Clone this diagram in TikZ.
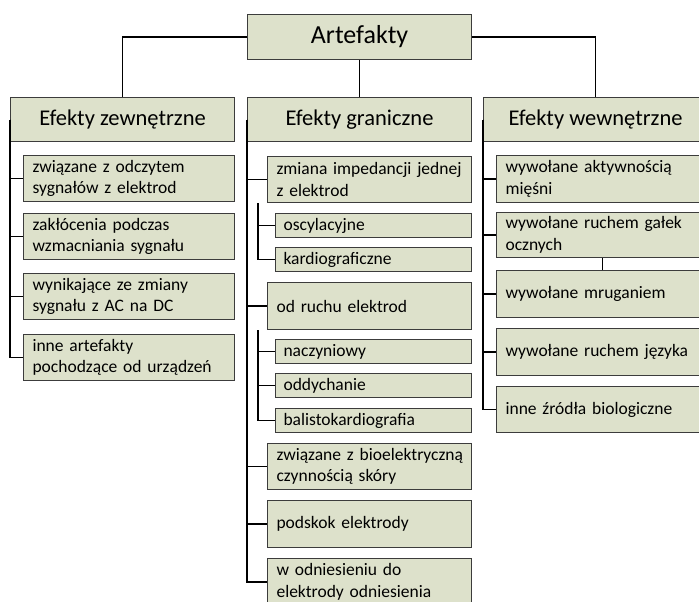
\documentclass[tikz,border=0pt]{standalone}
\usepackage{fontspec}
\setmainfont{Carlito}
\usetikzlibrary{calc}

\definecolor{boxfill}{RGB}{221,225,203}
\definecolor{boxline}{RGB}{60,60,60}

\begin{document}
\begin{tikzpicture}[
    x=1pt, y=-1pt,
    box/.style={draw=boxline, fill=boxfill, line width=1.1pt, anchor=north west, inner sep=0pt},
    topbox/.style={box, minimum width=224, minimum height=45, font=\fontsize{26}{31}\selectfont},
    grpbox/.style={box, minimum width=224, minimum height=44, font=\fontsize{22.5}{27}\selectfont},
    itembox/.style={box, inner xsep=9pt, align=left, font=\fontsize{17.5}{21.5}\selectfont},
    leftitem/.style={itembox, text width=193pt},
    miditem/.style={itembox, text width=186pt},
    subitem/.style={itembox, inner xsep=8pt, text width=180pt, minimum height=24},
    rightitem/.style={itembox, text width=194pt},
    link/.style={line width=1.3pt, black}
]
\useasboundingbox (0,0) rectangle (699,602);
\clip (0,0) rectangle (699,602);

% Top box and groups
\node[topbox] (art) at (247,14) {Artefakty};
\node[grpbox] (zew) at (10,97) {Efekty zewnętrzne};
\node[grpbox] (gra) at (247,97) {Efekty graniczne};
\node[grpbox] (wew) at (483,97) {Efekty wewnętrzne};

% Left column
\node[leftitem, minimum height=46] (z1) at (23,155) {związane z odczytem\\sygnałów z elektrod};
\node[leftitem, minimum height=46] (z2) at (23,213) {zakłócenia podczas\\wzmacniania sygnału};
\node[leftitem, minimum height=46] (z3) at (23,273) {wynikające ze zmiany\\sygnału z AC na DC};
\node[leftitem, minimum height=46] (z4) at (23,334) {inne artefakty\\pochodzące od urządzeń};

% Middle column
\node[miditem, minimum height=46] (imp) at (267,156) {zmiana impedancji jednej\\z elektrod};
\node[subitem] (osc) at (275,213) {oscylacyjne};
\node[subitem] (kar) at (275,247) {kardiograficzne};
\node[miditem, minimum height=47] (ruch) at (267,282) {od ruchu elektrod};
\node[subitem] (nac) at (275,339) {naczyniowy};
\node[subitem] (odd) at (275,373) {oddychanie};
\node[subitem] (bal) at (275,408) {balistokardiografia};
\node[miditem, minimum height=46] (bio) at (267,443) {\mbox{związane z bioelektryczną}\\czynnością skóry};
\node[miditem, minimum height=47] (pod) at (267,500) {podskok elektrody};
\node[miditem, minimum height=47] (odn) at (267,558) {w odniesieniu do\\elektrody odniesienia};

% Right column
\node[rightitem, minimum height=47] (w1) at (496,155) {wywołane aktywnością\\mięśni};
\node[rightitem, minimum height=45] (w2) at (496,212) {wywołane ruchem gałek\\ocznych};
\node[rightitem, minimum height=47] (w3) at (496,270) {wywołane mruganiem};
\node[rightitem, minimum height=47] (w4) at (496,328) {wywołane ruchem języka};
\node[rightitem, minimum height=46] (w5) at (496,386) {inne źródła biologiczne};

% Top connectors
\draw[link] (art.west) -| (zew.north);
\draw[link] (art.east) -| (wew.north);
\draw[link] (art.south) -- (gra.north);

% Trunks
\foreach \c in {z1,z2,z3,z4} \draw[link] (zew.west) |- (\c.west);
\foreach \c in {imp,ruch,bio,pod,odn} \draw[link] (gra.west) |- (\c.west);
\foreach \c in {w1,w2,w3,w4,w5} \draw[link] (wew.west) |- (\c.west);

% Sub branches
\coordinate (impfoot) at ($(imp.south west)+(-9,0)$);
\coordinate (ruchfoot) at ($(ruch.south west)+(-9,0)$);
\foreach \c in {osc,kar} \draw[link] (impfoot) |- (\c.west);
\foreach \c in {nac,odd,bal} \draw[link] (ruchfoot) |- (\c.west);

% Stray link
\draw[link] (w2.south) -- (w3.north);

\end{tikzpicture}
\end{document}
